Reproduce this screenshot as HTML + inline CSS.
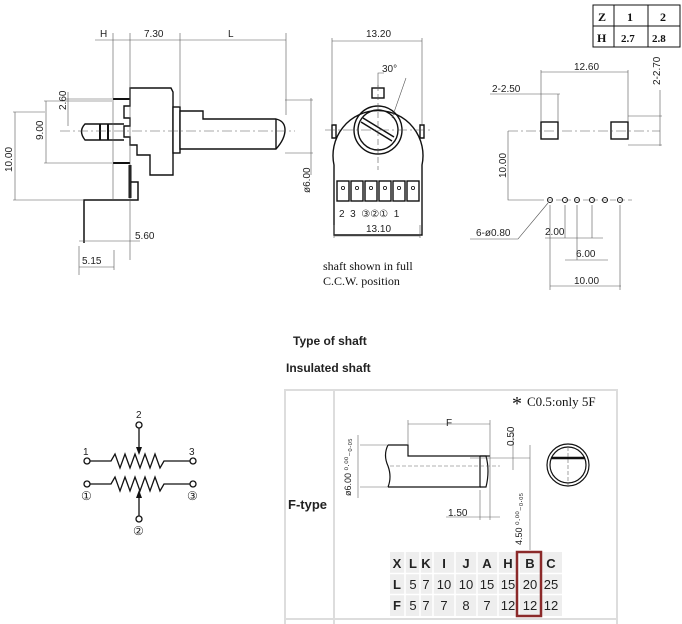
<!DOCTYPE html>
<html><head><meta charset="utf-8"><style>
html,body{margin:0;padding:0;background:#fff;}
svg{display:block;}
.t{font-family:"Liberation Sans",sans-serif;font-size:10px;fill:#222;}
.s{font-family:"Liberation Serif",serif;font-size:12px;fill:#111;}
.b{font-family:"Liberation Sans",sans-serif;font-size:12px;font-weight:bold;fill:#222;}
</style></head><body>
<svg width="682" height="624" viewBox="0 0 682 624" xmlns="http://www.w3.org/2000/svg">
<g stroke="#111" fill="none" stroke-width="1.4">
<!-- LEFT VIEW -->
<path d="M130 95 V88 H171 L173 92 V175 H150 V155 H137 V145 H130 V137 H124 V126 H130 V118 H124 V106 H130 Z" fill="#fff"/>
<rect x="173" y="107" width="7" height="46" fill="#fff"/>
<path d="M180 111 H203 V119 H276 Q285 121 285 130 Q285 139 276 149 H180 Z" fill="#fff"/>
<path d="M276 119 V149"/>
<path d="M124 124 H85 Q78 131 85 140 H124"/>
<path d="M100 124 V140 M108 124 V140" stroke-width="2"/>
<path d="M113 99 H130 M113 163 H130" stroke-width="2"/>
<path d="M84 243 V200 H138 V182 H130 V165 M138 182 V200" stroke-width="1.5"/>
<path d="M130 165 V198" stroke-width="3"/>
</g>
<g stroke="#555" stroke-width="0.6" fill="none">
<path d="M60 131 H295" stroke-dasharray="10 3 2 3"/>
<path d="M95 40 H286 M113 33 V200 M130 33 V260 M180 33 V107 M286 33 V115"/>
<path d="M15 112 V200 M13 112 H45 M13 200 H84"/>
<path d="M46 101 V163 M44 101 H112 M44 163 H112"/>
<path d="M68 92 V126 M66 99 H112"/>
<path d="M311 98 V175 M285 100 H313 M285 153 H313"/>
<path d="M79 241 H140 M79 246 V275 M79 267 H114 M114 250 V270"/>
</g>
<text class="t" x="100" y="37">H</text>
<text class="t" x="144" y="37">7.30</text>
<text class="t" x="228" y="37">L</text>
<text class="t" x="135" y="239">5.60</text>
<text class="t" x="82" y="264">5.15</text>
<text class="t" transform="translate(12,172) rotate(-90)">10.00</text>
<text class="t" transform="translate(43,140) rotate(-90)">9.00</text>
<text class="t" transform="translate(66,110) rotate(-90)">2.60</text>
<text class="t" transform="translate(310,193) rotate(-90)">ø6.00</text>

<!-- MIDDLE VIEW -->
<g stroke="#111" fill="none" stroke-width="1.4">
<path d="M334 175 V165 A45 45 0 1 1 422 165 V175 V235 H334 Z" fill="#fff"/>
<path d="M332 125 H336 V138 H332 Z M420 125 H424 V138 H420 Z"/>
<rect x="372" y="88" width="12" height="10" fill="#fff"/>
<circle cx="378" cy="130" r="24"/><circle cx="378" cy="130" r="20"/>
<path d="M363 118 L394 137 M361 122 L392 141" stroke-width="1.5"/>
<g fill="#fff">
<rect x="337" y="181" width="12" height="20"/><rect x="351" y="181" width="12" height="20"/><rect x="365" y="181" width="12" height="20"/><rect x="379" y="181" width="12" height="20"/><rect x="393" y="181" width="12" height="20"/><rect x="407" y="181" width="12" height="20"/>
</g>
<g stroke-width="0.8"><circle cx="343" cy="188" r="1.6"/><circle cx="357" cy="188" r="1.6"/><circle cx="371" cy="188" r="1.6"/><circle cx="385" cy="188" r="1.6"/><circle cx="399" cy="188" r="1.6"/><circle cx="413" cy="188" r="1.6"/></g>
</g>
<g stroke="#555" stroke-width="0.6" fill="none">
<path d="M325 130 H430" stroke-dasharray="10 3 2 3"/>
<path d="M378 85 V170" stroke-dasharray="6 3"/>
<path d="M332 41 H422 M332 38 V125 M422 38 V125"/>
<path d="M334 236 H420 M334 225 V238 M420 225 V238"/>
<path d="M378 87 V73 H384 M406 78 L392 118" />
</g>
<text class="t" x="366" y="37">13.20</text>
<text class="t" x="382" y="72">30°</text>
<text class="t" x="366" y="232">13.10</text>
<text class="t" x="339" y="217">2&#160;&#160;3&#160;&#160;③②①&#160;&#160;1</text>
<text class="s" x="323" y="270">shaft shown in full</text>
<text class="s" x="323" y="285">C.C.W. position</text>

<!-- RIGHT VIEW -->
<g stroke="#111" fill="#fff" stroke-width="1.4">
<rect x="541" y="122" width="17" height="17"/><rect x="611" y="122" width="17" height="17"/>
<g stroke-width="1"><circle cx="550" cy="200" r="2.5"/><circle cx="565" cy="200" r="2.5"/><circle cx="577" cy="200" r="2.5"/><circle cx="592" cy="200" r="2.5"/><circle cx="605" cy="200" r="2.5"/><circle cx="620" cy="200" r="2.5"/></g>
</g>
<g stroke="#555" stroke-width="0.6" fill="none">
<path d="M508 131 H660" stroke-dasharray="10 3 2 3"/>
<path d="M538 200 H632" stroke-dasharray="6 3"/>
<path d="M541 72 H628 M541 70 V122 M628 70 V122"/>
<path d="M490 94 H560 M558 94 V122"/>
<path d="M628 116 H662 M628 145 H662 M660 90 V146"/>
<path d="M508 131 V200 H538"/>
<path d="M470 239 H518 L548 203"/>
<path d="M545 238 H603 M565 205 V238 M592 205 V238 M565 260 H608"/>
<path d="M550 205 V290 M620 205 V290 M550 286 H621 M577 205 V260"/>
</g>
<text class="t" x="574" y="70">12.60</text>
<text class="t" x="492" y="92">2-2.50</text>
<text class="t" transform="translate(660,85) rotate(-90)">2-2.70</text>
<text class="t" transform="translate(506,178) rotate(-90)">10.00</text>
<text class="t" x="476" y="236">6-ø0.80</text>
<text class="t" x="545" y="235">2.00</text>
<text class="t" x="576" y="257">6.00</text>
<text class="t" x="574" y="284">10.00</text>

<!-- TOP RIGHT TABLE -->
<g stroke="#111" stroke-width="1" fill="none">
<rect x="593" y="5" width="87" height="42"/>
<path d="M593 26 H680 M614 5 V47 M648 5 V47"/>
</g>
<text class="s" x="598" y="21" font-weight="bold">Z</text><text class="s" x="627" y="21" font-weight="bold">1</text><text class="s" x="660" y="21" font-weight="bold">2</text>
<text class="s" x="597" y="42" font-weight="bold">H</text><text class="s" x="621" y="42" font-weight="bold" style="font-size:11px">2.7</text><text class="s" x="652" y="42" font-weight="bold" style="font-size:11px">2.8</text>

<!-- SCHEMATIC -->
<g stroke="#111" stroke-width="1.3" fill="none">
<circle cx="87" cy="461" r="3"/><circle cx="193" cy="461" r="3"/><circle cx="139" cy="425" r="3"/>
<path d="M90 461 H111 L115 454 L120 468 L125 454 L130 468 L135 454 L140 468 L145 454 L150 468 L155 454 L160 468 L164 461 H190"/>
<path d="M139 428 V450"/>
<circle cx="87" cy="484" r="3"/><circle cx="193" cy="484" r="3"/><circle cx="139" cy="519" r="3"/>
<path d="M90 484 H111 L115 477 L120 491 L125 477 L130 491 L135 477 L140 491 L145 477 L150 491 L155 477 L160 491 L164 484 H190"/>
<path d="M139 516 V496"/>
</g>
<path d="M136 447 L139 455 L142 447 Z M136 498 L139 490 L142 498 Z" fill="#111"/>
<text class="t" x="83" y="455">1</text><text class="t" x="189" y="455">3</text><text class="t" x="136" y="418">2</text>
<text class="t" x="81" y="500" style="font-size:12px">①</text><text class="t" x="187" y="500" style="font-size:12px">③</text><text class="t" x="133" y="535" style="font-size:12px">②</text>

<!-- BOTTOM -->
<text class="b" x="293" y="345">Type of shaft</text>
<text class="b" x="286" y="372">Insulated shaft</text>
<g stroke="#ddd" stroke-width="2" fill="none">
<path d="M285 624 V390 H617 V624 M334 390 V624 M285 619 H617"/>
</g>
<text class="b" x="288" y="509" style="font-size:13px">F-type</text>
<text class="s" x="512" y="410" style="font-size:20px">*</text>
<text class="s" x="527" y="406" style="font-size:13px">C0.5:only 5F</text>
<g stroke="#111" stroke-width="1.2" fill="none">
<path d="M388 445 H408 V456 H490 M388 487 H481" />
<path d="M388 445 Q383 455 388 466 Q392 477 388 487"/>
<path d="M480 456 V487 M480 456 H486 Q490 471 486 487 H480"/>
<circle cx="568" cy="465" r="21"/><circle cx="568" cy="465" r="18"/>
<path d="M551 458 H585" stroke-width="2.5"/>
</g>
<g stroke="#666" stroke-width="0.6" fill="none">
<path d="M360 445 H388 M360 487 H388 M358 435 V498"/>
<path d="M408 420 V445 M490 420 V520 M408 424 H490"/>
<path d="M480 490 V520 M446 517 H500"/>
<path d="M470 458 H530 M513 430 V470 M530 445 V550"/>
<path d="M390 466 H500 M568 447 V485" stroke-dasharray="4 2"/>
</g>
<text class="t" x="446" y="426">F</text>
<text class="t" x="448" y="516">1.50</text>
<text class="t" transform="translate(514,446) rotate(-90)">0.50</text>
<text class="t" transform="translate(351,496) rotate(-90)" style="font-size:9px">ø6.00 ⁰·⁰⁰₋₀.₀₅</text>
<text class="t" transform="translate(522,545) rotate(-90)" style="font-size:9px">4.50 ⁰·⁰⁰₋₀.₀₅</text>

<rect x="390" y="552" width="172" height="64" fill="#eee"/>
<g stroke="#fff" stroke-width="1.5">
<path d="M390 573.5 H562 M390 594.5 H562 M405 552 V616 M420 552 V616 M433 552 V616 M455 552 V616 M477 552 V616 M498 552 V616 M519 552 V616 M541 552 V616"/>
</g>
<g font-family="Liberation Sans,sans-serif" font-size="13" fill="#222" text-anchor="middle">
<g font-weight="bold"><text x="397" y="568">X</text><text x="413" y="568">L</text><text x="426" y="568">K</text><text x="444" y="568">I</text><text x="466" y="568">J</text><text x="487" y="568">A</text><text x="508" y="568">H</text><text x="530" y="568">B</text><text x="551" y="568">C</text>
<text x="397" y="589">L</text><text x="397" y="610">F</text></g>
<text x="413" y="589">5</text><text x="426" y="589">7</text><text x="444" y="589">10</text><text x="466" y="589">10</text><text x="487" y="589">15</text><text x="508" y="589">15</text><text x="530" y="589">20</text><text x="551" y="589">25</text>
<text x="413" y="610">5</text><text x="426" y="610">7</text><text x="444" y="610">7</text><text x="466" y="610">8</text><text x="487" y="610">7</text><text x="508" y="610">12</text><text x="530" y="610">12</text><text x="551" y="610">12</text>
</g>
<rect x="517" y="552" width="24" height="64" fill="none" stroke="#8b2a2a" stroke-width="2.5"/>
</svg>
</body></html>
